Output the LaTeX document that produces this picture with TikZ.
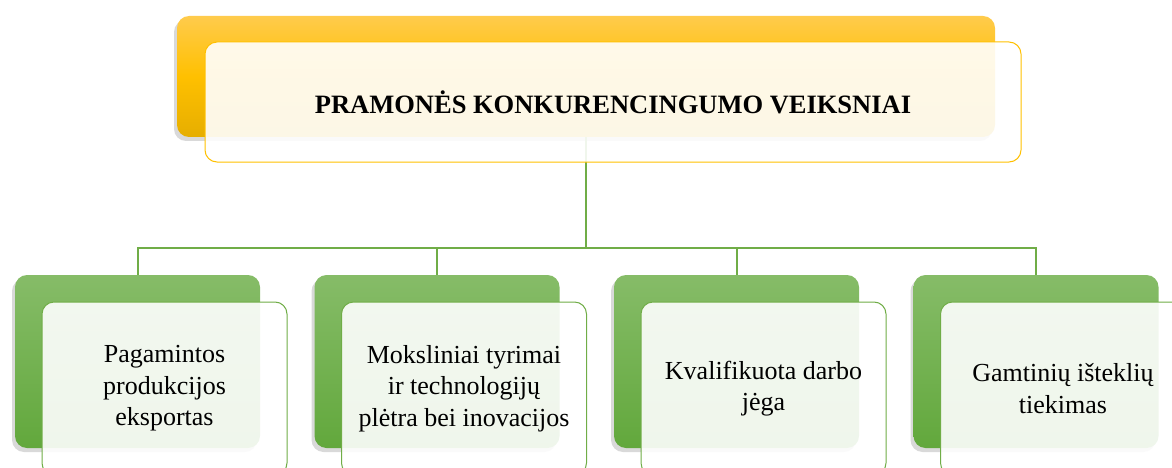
\documentclass[tikz,border=0pt]{standalone}
\usepackage{fontspec}
\setmainfont{Liberation Serif}
\usetikzlibrary{shadows}
\definecolor{goldtop}{HTML}{FFCB4C}
\definecolor{goldmid}{HTML}{FFC000}
\definecolor{goldbot}{HTML}{E6AE00}
\definecolor{greentop}{HTML}{86BC68}
\definecolor{greenbot}{HTML}{62A83C}
\definecolor{greenline}{HTML}{70AD47}
\tikzset{
  backbox/.style={rectangle, rounded corners=12pt, inner sep=0pt,
    drop shadow={shadow xshift=-3pt, shadow yshift=-4pt, opacity=0.3}},
  headback/.style={backbox, minimum width=818pt, minimum height=121pt,
    top color=goldtop, bottom color=goldbot, middle color=goldmid},
  itemback/.style={backbox, minimum width=245pt, minimum height=173pt,
    top color=greentop, bottom color=greenbot},
  frontbox/.style={rectangle, rounded corners=12pt, inner sep=0pt, align=center,
    fill=white, fill opacity=0.9, text opacity=1, line width=1pt},
  headfront/.style={frontbox, draw=goldmid, minimum width=816pt, minimum height=120pt,
    font=\fontsize{26.5}{30}\selectfont\bfseries},
  itemfront/.style={frontbox, draw=greenline, minimum width=245pt, minimum height=173pt,
    font=\fontsize{26}{31.5}\selectfont},
  link/.style={draw=greenline, line width=2pt}
}
\begin{document}
\begin{tikzpicture}[x=1pt, y=-1pt]
  \useasboundingbox (0,0) rectangle (1172,468);
  \clip (0,0) rectangle (1172,468);
  \node[headback] (hb) at (586,76.5) {};
  \node[itemback] (b1) at (137.5,361.5) {};
  \node[itemback] (b2) at (437,361.5) {};
  \node[itemback] (b3) at (736.5,361.5) {};
  \node[itemback] (b4) at (1036,361.5) {};
  \begin{scope}[link]
    \draw (hb.south) -- ++(0,111) -| (b1.north);
    \draw (hb.south) -- ++(0,111) -| (b2.north);
    \draw (hb.south) -- ++(0,111) -| (b3.north);
    \draw (hb.south) -- ++(0,111) -| (b4.north);
  \end{scope}
  \node[headfront] (hf) at (613,102) {PRAMONĖS KONKURENCINGUMO VEIKSNIAI};
  \node[itemfront] (f1) at (164.5,388.5) {Pagamintos\\produkcijos\\eksportas};
  \node[itemfront] (f2) at (464,388.5) {Moksliniai tyrimai\\ir technologijų\\plėtra bei inovacijos};
  \node[itemfront] (f3) at (763.5,388.5) {Kvalifikuota darbo\\jėga};
  \node[itemfront] (f4) at (1063,388.5) {Gamtinių išteklių\\tiekimas};
\end{tikzpicture}
\end{document}
